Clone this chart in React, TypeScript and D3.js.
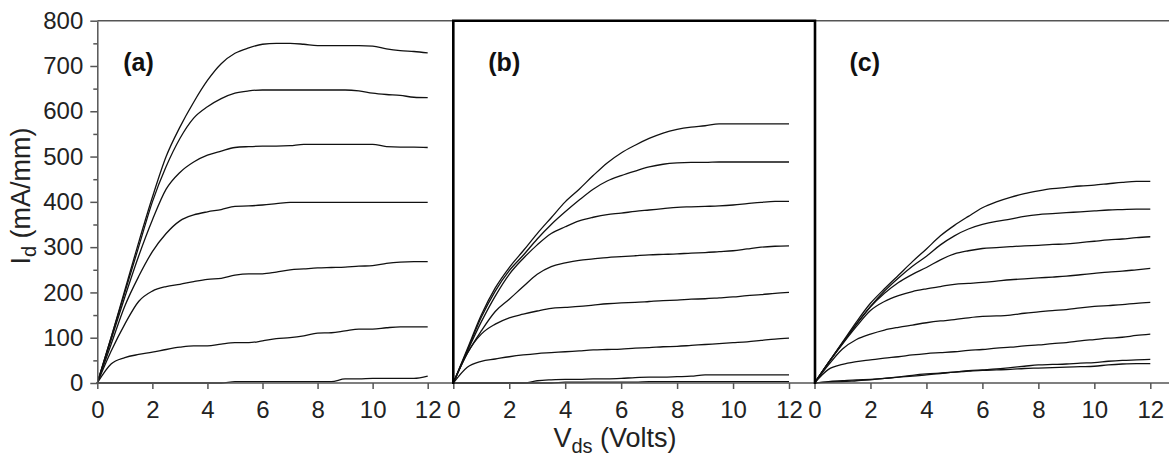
import * as d3 from 'd3';
import { useEffect, useRef } from 'react';

// drain voltage grid shared by every curve (0 .. 12 V, step 0.5)
const vds = [0, 0.5, 1, 1.5, 2, 2.5, 3, 3.5, 4, 4.5, 5, 5.5, 6, 6.5, 7, 7.5, 8, 8.5, 9, 9.5, 10, 10.5, 11, 11.5, 12];

// panel (a) curves, mA/mm
const a1 = [0, 100, 205, 310, 410, 500, 565, 620, 668, 705, 728, 740, 748, 750, 750, 748, 745, 745, 745, 745, 744, 738, 734, 732, 729];
const a2 = [0, 100, 200, 300, 400, 478, 540, 585, 610, 628, 640, 645, 647, 647, 647, 647, 647, 647, 647, 645, 640, 637, 635, 631, 630];
const a3 = [0, 95, 190, 280, 360, 428, 465, 488, 503, 512, 520, 522, 523, 523, 524, 527, 527, 527, 527, 527, 527, 522, 521, 521, 520];
const a4 = [0, 85, 170, 235, 290, 330, 358, 371, 378, 383, 390, 391, 393, 396, 399, 399, 399, 399, 399, 399, 399, 399, 399, 399, 399];
const a5 = [0, 70, 130, 180, 203, 213, 218, 224, 229, 231, 238, 241, 241, 245, 250, 252, 254, 255, 256, 258, 259, 264, 267, 268, 268];
const a6 = [0, 42, 56, 63, 68, 74, 79, 82, 82, 86, 89, 89, 93, 98, 100, 104, 110, 111, 115, 119, 119, 122, 124, 124, 124];
const a7 = [0, 0, 0, 0, 0, 0, 0, 0, 0, 0, 3, 3, 3, 3, 3, 3, 3, 3, 9, 9, 10, 10, 10, 10, 15];

// panel (b)
const b1 = [0, 75, 150, 210, 255, 292, 330, 365, 400, 428, 458, 486, 508, 525, 540, 552, 560, 565, 568, 572, 572, 572, 572, 572, 572];
const b2 = [0, 72, 145, 203, 248, 282, 318, 350, 378, 404, 428, 446, 458, 468, 477, 483, 486, 487, 487, 488, 488, 488, 488, 488, 488];
const b3 = [0, 70, 135, 192, 240, 275, 305, 330, 345, 358, 366, 372, 375, 379, 382, 385, 388, 389, 390, 391, 393, 396, 399, 401, 401];
const b4 = [0, 65, 115, 158, 185, 213, 240, 257, 265, 271, 274, 277, 279, 281, 283, 284, 285, 287, 288, 290, 292, 296, 300, 302, 303];
const b5 = [0, 66, 108, 130, 144, 152, 159, 165, 167, 169, 172, 175, 177, 178, 180, 182, 183, 185, 186, 188, 190, 193, 195, 198, 200];
const b6 = [0, 35, 48, 53, 58, 62, 65, 67, 69, 71, 73, 74, 75, 77, 78, 80, 81, 83, 85, 87, 89, 91, 94, 97, 99];
const b7 = [0, 0, 0, 0, 0, 0, 5, 7, 8, 8, 9, 9, 10, 12, 13, 13, 14, 15, 18, 18, 18, 18, 18, 18, 18];
const b8 = [0, 0, 0, 0, 0, 0, 0, 0, 2, 2, 2, 2, 2, 2, 3, 3, 3, 3, 3, 3, 3, 3, 3, 3, 3];

// panel (c)
const c1 = [0, 45, 90, 135, 176, 208, 238, 268, 296, 325, 348, 368, 387, 400, 410, 418, 424, 429, 432, 435, 437, 440, 443, 445, 445];
const c2 = [0, 45, 88, 130, 169, 203, 232, 258, 280, 305, 325, 340, 350, 357, 362, 368, 372, 374, 376, 378, 380, 382, 383, 384, 384];
const c3 = [0, 45, 88, 130, 168, 198, 222, 240, 255, 272, 285, 292, 297, 299, 301, 303, 304, 306, 307, 310, 313, 316, 318, 321, 323];
const c4 = [0, 45, 86, 125, 160, 180, 193, 202, 208, 213, 218, 220, 222, 225, 228, 230, 232, 234, 236, 239, 242, 245, 247, 250, 253];
const c5 = [0, 40, 75, 96, 108, 117, 123, 128, 133, 137, 140, 144, 147, 148, 150, 154, 157, 160, 162, 166, 169, 171, 173, 176, 178];
const c6 = [0, 30, 41, 47, 51, 55, 58, 62, 65, 67, 69, 72, 74, 77, 79, 82, 84, 87, 89, 93, 96, 99, 101, 105, 108];
const c7 = [0, 3, 5, 7, 8, 10, 13, 17, 20, 22, 24, 27, 29, 31, 34, 37, 40, 41, 42, 44, 45, 48, 50, 51, 52];
const c8 = [0, 2, 3, 5, 7, 10, 13, 15, 18, 21, 24, 26, 28, 29, 30, 32, 33, 34, 35, 36, 37, 40, 42, 43, 43];

const panelLabels = ['(a)', '(b)', '(c)'];
const panelCurves = [
    [a1, a2, a3, a4, a5, a6, a7],
    [b1, b2, b3, b4, b5, b6, b7, b8],
    [c1, c2, c3, c4, c5, c6, c7, c8],
];
const xTicks = [0, 2, 4, 6, 8, 10, 12];
const yTicks = [0, 100, 200, 300, 400, 500, 600, 700, 800];
const yMinor = [50, 150, 250, 350, 450, 550, 650, 750];

const W = 1169, H = 457;
const FONT = "'Liberation Sans', Arial, sans-serif";

export default function App() {
    const ref = useRef(null);

    useEffect(() => {
        document.body.style.margin = '0';
        drawChart();
    }, []);

    function drawChart() {
        const svg = d3.select(ref.current);
        svg.selectAll('*').remove();

        const top = 20.7, bottom = 383;
        const y = d3.scaleLinear().domain([0, 800]).range([bottom, top]);

        // where 0 V and 12 V land in each panel
        const panels = [
            { x0: 97.3, x12: 427.7 },
            { x0: 453.3, x12: 789 },
            { x0: 814.5, x12: 1150.3 },
        ];
        const axisColor = '#555';

        // top frame line
        svg.append('line').attr('x1', 97.3).attr('x2', W).attr('y1', top).attr('y2', top)
            .attr('stroke', axisColor).attr('stroke-width', 1.5);

        panels.forEach((p, i) => {
            const x = d3.scaleLinear().domain([0, 12]).range([p.x0, p.x12]);
            const g = svg.append('g');

            const line = d3.line()
                .x((d, k) => x(vds[k]))
                .y(d => y(d))
                .curve(d3.curveMonotoneX);

            g.selectAll('path.curve')
                .data(panelCurves[i])
                .enter()
                .append('path')
                .attr('class', 'curve')
                .attr('d', d => line(d))
                .attr('fill', 'none')
                .attr('stroke', '#111')
                .attr('stroke-width', 1.3);

            // x axis
            const ax = g.append('g')
                .attr('transform', 'translate(0,' + bottom + ')')
                .call(d3.axisBottom(x).tickValues(xTicks).tickSize(6).tickPadding(12).tickSizeOuter(0));
            ax.select('.domain').remove();
            ax.selectAll('line').attr('stroke', axisColor).attr('stroke-width', 1.5);
            ax.selectAll('text').attr('fill', '#222').style('font-family', FONT).style('font-size', '24px');

            g.append('text')
                .attr('x', p.x0 + (i === 0 ? 26 : 35))
                .attr('y', 71)
                .attr('font-family', FONT)
                .attr('font-weight', 'bold')
                .attr('font-size', 25)
                .attr('fill', '#111')
                .text(panelLabels[i]);
        });

        svg.append('line').attr('x1', 97.3).attr('x2', W).attr('y1', bottom).attr('y2', bottom)
            .attr('stroke', axisColor).attr('stroke-width', 1.5);

        // y axis on panel (a)
        const ay = svg.append('g')
            .attr('transform', 'translate(97.3,0)')
            .call(d3.axisLeft(y).tickValues(yTicks).tickSize(7).tickPadding(7).tickSizeOuter(0));
        ay.select('.domain').attr('stroke', axisColor).attr('stroke-width', 1.5);
        ay.selectAll('line').attr('stroke', axisColor).attr('stroke-width', 1.5);
        ay.selectAll('text').attr('fill', '#222').style('font-family', FONT).style('font-size', '24px');

        const am = svg.append('g')
            .attr('transform', 'translate(97.3,0)')
            .call(d3.axisLeft(y).tickValues(yMinor).tickSize(4).tickFormat(() => '').tickSizeOuter(0));
        am.select('.domain').remove();
        am.selectAll('line').attr('stroke', axisColor).attr('stroke-width', 1.5);

        // thick frame of panel (b)
        svg.append('path')
            .attr('d', 'M453.3,' + (bottom + 1) + 'V' + top + 'H815V' + (bottom + 1))
            .attr('fill', 'none')
            .attr('stroke', '#000')
            .attr('stroke-width', 2.6);

        // axis titles
        const xt = svg.append('text')
            .attr('x', 615).attr('y', 447)
            .attr('text-anchor', 'middle')
            .attr('font-family', FONT).attr('font-size', 27).attr('fill', '#222');
        xt.append('tspan').text('V');
        xt.append('tspan').attr('font-size', 20).attr('dy', 6).text('ds');
        xt.append('tspan').attr('dy', -6).text(' (Volts)');

        const yt = svg.append('text')
            .attr('transform', 'translate(30,196) rotate(-90)')
            .attr('text-anchor', 'middle')
            .attr('font-family', FONT).attr('font-size', 27).attr('fill', '#222');
        yt.append('tspan').text('I');
        yt.append('tspan').attr('font-size', 20).attr('dy', 6).text('d');
        yt.append('tspan').attr('dy', -6).text(' (mA/mm)');
    }

    return (
        <svg ref={ref} width={W} height={H} style={{ display: 'block', background: '#fff' }} />
    );
}
